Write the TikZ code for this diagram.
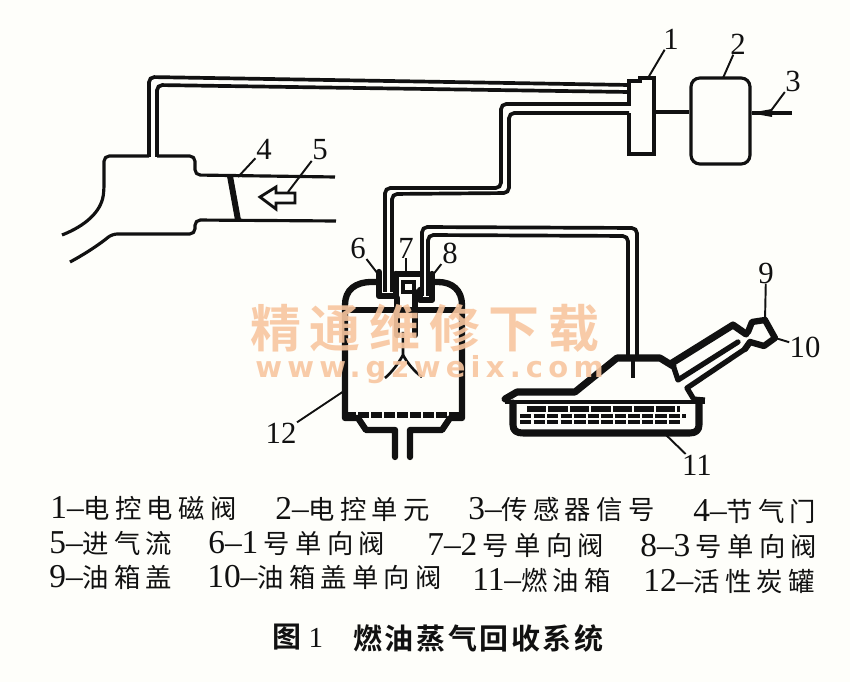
\documentclass[tikz,border=0pt]{standalone}
\usepackage{fontspec}
\setmainfont{Liberation Serif}
\newfontfamily\cjkfont[LetterSpace=20]{Noto Sans CJK SC}
\newfontfamily\cjkbold[LetterSpace=9]{Noto Sans CJK SC Bold}
\newfontfamily\markfont[LetterSpace=17]{Noto Sans CJK SC Bold}
\newfontfamily\urlfont[LetterSpace=18]{DejaVu Sans Bold}
\newcommand{\zh}[1]{{\cjkfont\fontsize{15}{16}\selectfont #1}}
\definecolor{paper}{HTML}{FEFEFA}
\definecolor{ink}{HTML}{111111}
\definecolor{wmark}{HTML}{F8C6A0}
\begin{document}
\begin{tikzpicture}[x=.02cm,y=-.02cm]
    \tikzset{wire/.style={ink,line width=1.8pt},
      pipe/.style={ink,line width=2.1pt,rounded corners=3pt},
      heavy/.style={ink,line width=3.6pt,line join=round,line cap=round},
      leader/.style={ink,line width=1.1pt,shorten <=-1pt},
      numlabel/.style={ink,font=\fontsize{17.5}{18}\selectfont,inner sep=1pt},
      legend/.style={ink,font=\fontsize{19}{20}\selectfont,inner sep=0pt,anchor=west},
      caption/.style={ink,font=\fontsize{16.5}{18}\selectfont,inner sep=0pt,anchor=west}}
    \fill[paper] (0,0) rectangle (850,682);
    \useasboundingbox (0,0) rectangle (850,682);
    % manifold and intake duct
    \draw[wire,rounded corners=3pt] (149,156)--(104,156)--(104,190)
      .. controls (101,212) and (85,226) .. (62,235);
    \draw[wire,rounded corners=3pt] (157,156)--(195,156)--(195,175)--(335,177);
    \draw[wire,rounded corners=3pt] (336,221)--(195,220)--(195,234)--(112,234)
      .. controls (100,244) and (85,254) .. (70,262);
    \draw[ink,line width=3.4pt] (230,176)--(238,220);
    \draw[wire,line width=1.6pt] (260,197)--(276,187)--(276,193)--(295,193)--(295,203)--(276,203)--(276,209)--cycle;
    % long pipes
    \draw[pipe] (149,157)--(149,77)--(629,85);
    \draw[pipe] (157,157)--(157,85)--(629,92);
    \draw[pipe] (629,104)--(501,104)--(501,188)--(385,188)--(385,292);
    \draw[pipe] (629,113)--(509,113)--(509,193)--(392,194)--(392,292);
    \draw[pipe] (422,296)--(422,227)--(637,228)--(637,357);
    \draw[pipe] (428,296)--(428,235)--(628,236)--(628,357);
    \draw[wire,line width=2.2pt] (633,357)--(633,378);
    % solenoid valve and control unit
    \draw[wire] (629,85)--(629,81)--(640,81)--(640,78)--(654,78)--(654,154)--(629,154)--(629,113);
    \draw[wire] (629,85)--(629,106);
    \node[wire,draw,rounded corners=5pt,minimum width=1.18cm,minimum height=1.72cm,inner sep=0pt] (ecu) at (720.5,121) {};
    \coordinate (solout) at (654,112);
    \draw[wire] (solout)--(ecu.west |- solout);
    \coordinate (signalin) at (792,113);
    \draw[wire] (signalin)--(ecu.east |- signalin);
    \fill[ink] (750,113)--(772,109)--(772,117)--cycle;
    % canister
    \draw[heavy] (378,282)--(372,282) .. controls (355,282) and (345,290) .. (345,305)--(345,418)--(358,418)--(366,430)--(395,430)--(395,457);
    \draw[heavy] (432,282)--(438,282) .. controls (452,282) and (462,290) .. (462,305)--(462,418)--(450,418)--(442,430)--(410,430)--(410,457);
    \draw[heavy,line cap=butt,dash pattern=on 6.5pt off .9pt] (345,415)--(462,415);
    \draw[heavy] (350,310)--(458,310);
    \draw[heavy] (379,272)--(379,296)--(396,296)--(396,274);
    \draw[heavy] (420,290)--(420,300)--(432,300)--(432,274);
    \draw[heavy] (396,274)--(420,274);
    \draw[heavy] (397,298)--(397,335);
    \draw[heavy] (415,292)--(415,335);
    \draw[wire] (403,282)--(414,282)--(414,292)--(403,292)--cycle;
    \draw[wire,line width=1.5pt] (403,332)--(403,355) .. controls (398,364) and (392,372) .. (385,378);
    \draw[wire,line width=1.5pt] (403,355) .. controls (408,364) and (415,372) .. (422,377);
    % fuel tank, cover and filler neck
    \draw[heavy,line width=4pt] (505,399)--(517,392)--(575,392)--(617,358)--(660,358)--(673,366);
    \draw[heavy,line width=4pt] (513,403)--(513,425) .. controls (513,431) and (517,433) .. (523,433)--(690,433) .. controls (696,433) and (699,430) .. (699,425)--(699,403);
    \draw[wire] (505,402)--(705,402);
    \draw[heavy,line width=4pt] (672,363)--(733,325)--(746,334);
    \draw[heavy,line width=3pt] (673,365)--(678,380)--(738,342);
    \draw[heavy,line width=3pt] (693,398)--(687,388)--(745,349);
    \draw[wire] (693,398)--(705,399);
    \draw[heavy] (748,332)--(752,322)--(765,320)--(775,338)--(764,346)--(750,342)--(745,349);
    \draw[ink,line width=3.4pt,dash pattern=on 11pt off 1.2pt] (527,409)--(680,409);
    \draw[ink,line width=1.8pt,dash pattern=on 6.5pt off 1.2pt] (520,416)--(686,416);
    \draw[ink,line width=1.8pt,dash pattern=on 6.5pt off 1.2pt] (520,422)--(680,422);
    % number labels
    \node[numlabel] (lab1) at (671,39) {1};
    \node[numlabel] (lab2) at (738,44) {2};
    \node[numlabel] (lab3) at (793,81) {3};
    \node[numlabel] (lab4) at (264,149) {4};
    \node[numlabel] (lab5) at (320,150) {5};
    \node[numlabel] (lab6) at (358,248) {6};
    \node[numlabel] (lab7) at (406,248) {7};
    \node[numlabel] (lab8) at (450,253) {8};
    \node[numlabel] (lab9) at (766,273) {9};
    \node[numlabel] (lab10) at (805,347) {10};
    \node[numlabel] (lab11) at (697,465) {11};
    \node[numlabel] (lab12) at (281,433) {12};
    \coordinate (end1) at (648,78);
    \coordinate (end2) at (723,78);
    \coordinate (end3) at (770,112);
    \coordinate (end4) at (238,177);
    \coordinate (end5) at (288,192);
    \coordinate (end6) at (378,274);
    \coordinate (end7) at (406,272);
    \coordinate (end8) at (432,276);
    \coordinate (end9) at (765,321);
    \coordinate (end10) at (772,337);
    \coordinate (end11) at (665,434);
    \coordinate (end12) at (344,391);
    \foreach \n in {1,...,12} \draw[leader] (lab\n)--(end\n);
    % legend
    \node[legend] (item1) at (50,508) {1–\zh{电控电磁阀}};
    \node[legend] (item2) at (275,509) {2–\zh{电控单元}};
    \node[legend] (item3) at (468,510) {3–\zh{传感器信号}};
    \node[legend] (item4) at (693,511) {4–\zh{节气门}};
    \node[legend] (item5) at (49,543) {5–\zh{进气流}};
    \node[legend] (item6) at (208,543) {6–1\,\zh{号单向阀}};
    \node[legend] (item7) at (427,545) {7–2\,\zh{号单向阀}};
    \node[legend] (item8) at (640,546) {8–3\,\zh{号单向阀}};
    \node[legend] (item9) at (49,577) {9–\zh{油箱盖}};
    \node[legend] (item10) at (207,577) {10–\zh{油箱盖单向阀}};
    \node[legend] (item11) at (472,580) {11–\zh{燃油箱}};
    \node[legend] (item12) at (643,581) {12–\zh{活性炭罐}};
    \node[caption] (fig) at (272,637) {{\cjkbold 图}\ 1};
    \node[caption] (title) at (353,638) {{\cjkbold 燃油蒸气回收系统}};
    % watermark
    \node[wmark,opacity=.9,inner sep=0pt,anchor=west,font=\fontsize{29}{30}\selectfont\markfont] (mark) at (250,328) {精通维修下载};
    \node[wmark,opacity=.9,inner sep=0pt,anchor=west,font=\fontsize{16.5}{18}\selectfont\urlfont] (site) at (255,370) {www.gzweix.com};
    \end{tikzpicture}
\end{document}
